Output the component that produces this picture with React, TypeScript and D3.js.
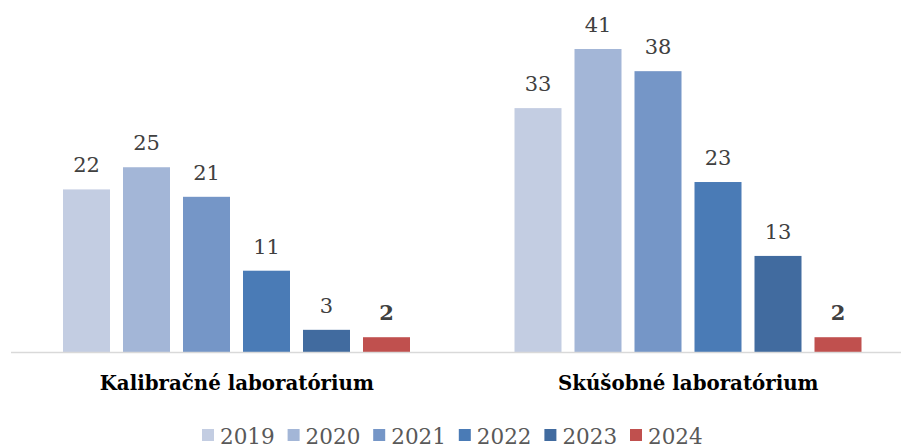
import * as d3 from "d3";

const categories = ["Kalibračné laboratórium", "Skúšobné laboratórium"];
const years = ["2019", "2020", "2021", "2022", "2023", "2024"];
const values2019 = [22, 33];
const values2020 = [25, 41];
const values2021 = [21, 38];
const values2022 = [11, 23];
const values2023 = [3, 13];
const values2024 = [2, 2];
const colors = ["#c3cde2", "#a3b6d7", "#7596c7", "#4a7bb6", "#416b9f", "#c0504e"];

const seriesValues = [values2019, values2020, values2021, values2022, values2023, values2024];

export default function App() {
  const width = 901;
  const height = 446;
  const baseline = 352;
  const font = "'DejaVu Serif', serif";

  const x = d3.scaleBand().domain(categories).range([11, 914]);
  // bars sit in a fixed span inside each category band
  const xs = d3.scaleBand().domain(years).range([52, 399]).paddingInner(0.2167);
  const y = d3.scaleLinear().domain([0, 41]).range([baseline, 49]);

  const legendStep = 85.6;
  const legendX0 = 202;

  return (
    <svg
      width={width}
      height={height}
      style={{ position: "absolute", left: 0, top: 0, background: "#fff" }}
    >
      {years.map((yr, si) =>
        categories.map((cat, ci) => {
          const v = seriesValues[si][ci];
          const bx = (x(cat) ?? 0) + (xs(yr) ?? 0);
          return (
            <g key={yr + cat}>
              <rect x={bx} y={y(v)} width={xs.bandwidth()} height={baseline - y(v)} fill={colors[si]} />
              <text
                x={bx + xs.bandwidth() / 2}
                y={y(v) - 17}
                textAnchor="middle"
                fontFamily={font}
                fontSize={21}
                fontWeight={yr === "2024" ? "bold" : "normal"}
                fill="#404040"
              >
                {v}
              </text>
            </g>
          );
        })
      )}
      <line x1={11} x2={901} y1={baseline + 0.5} y2={baseline + 0.5} stroke="#d9d9d9" strokeWidth={1.5} />
      {categories.map((cat) => (
        <text
          key={cat}
          x={(x(cat) ?? 0) + x.bandwidth() / 2}
          y={390}
          textAnchor="middle"
          fontFamily={font}
          fontSize={19.8}
          fontWeight="bold"
          fill="#000"
        >
          {cat}
        </text>
      ))}
      {years.map((yr, i) => (
        <g key={yr} transform={`translate(${legendX0 + i * legendStep},0)`}>
          <rect x={0} y={429} width={12} height={12} fill={colors[i]} />
          <text x={18} y={443.5} fontFamily={font} fontSize={21.5} fill="#595959">
            {yr}
          </text>
        </g>
      ))}
    </svg>
  );
}
